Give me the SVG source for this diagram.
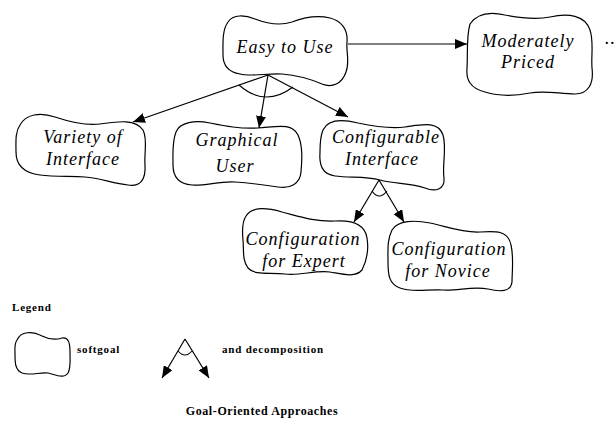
<svg xmlns="http://www.w3.org/2000/svg" width="616" height="432" viewBox="0 0 616 432">
  <style>
    .cloud { fill: #ffffff; stroke: #000000; stroke-width: 1.2; }
    .label { font-family: "Liberation Serif", "Times New Roman", serif; font-style: italic; font-size: 18px; letter-spacing: 1px; text-anchor: middle; fill: #000000; }
    .legend { font-family: "Liberation Serif", "Times New Roman", serif; font-weight: bold; font-size: 11px; letter-spacing: 0.8px; fill: #000000; }
    .title { font-family: "Liberation Serif", "Times New Roman", serif; font-weight: bold; font-size: 12px; letter-spacing: 0.6px; text-anchor: middle; fill: #000000; }
    .edge { fill: none; stroke: #000000; stroke-width: 1.2; }
    .arc { fill: none; stroke: #000000; stroke-width: 1.1; }
  </style>
  <defs>
    <marker id="arrow" markerUnits="userSpaceOnUse" markerWidth="12" markerHeight="10" refX="12" refY="5" orient="auto">
      <path d="M0,0 L12,5 L0,10 Z" fill="#000000"/>
    </marker>
  </defs>
  <rect width="616" height="432" fill="#ffffff"/>

  <!-- goal nodes -->
  <g id="easy-to-use">
    <path class="cloud" d="M228,22 C233,14 245,15 255,19 C268,24 280,26 292,22 C305,17 318,15 330,18 C342,21 348,30 347,42 C346,52 350,62 346,72 C342,84 332,88 322,84 C308,78 295,75 282,74 C268,73 252,77 240,74 C228,72 223,66 223,55 C223,44 222,30 228,22 Z"/>
    <text class="label" x="285" y="53">Easy to Use</text>
  </g>
  <g id="moderately-priced">
    <path class="cloud" d="M470,24 C478,12 492,12 505,15 C520,18 535,20 550,17 C568,13 585,15 590,30 C594,42 591,55 592,68 C594,84 588,94 575,94 C560,94 545,90 530,93 C515,96 498,96 485,92 C470,88 466,80 467,68 C468,55 466,38 470,24 Z"/>
    <text class="label" x="528" y="47">Moderately</text>
    <text class="label" x="528" y="68">Priced</text>
  </g>
  <text class="label" x="605" y="44" style="text-anchor:start">..</text>

  <g id="variety-of-interface">
    <path class="cloud" d="M20,125 C26,114 40,112 55,117 C70,122 85,126 100,124 C115,122 135,118 143,130 C148,140 144,152 145,165 C146,180 140,187 128,185 C112,183 100,178 85,177 C70,176 55,177 40,175 C24,173 16,165 16,152 C16,142 15,132 20,125 Z"/>
    <text class="label" x="83" y="143">Variety of</text>
    <text class="label" x="83" y="165">Interface</text>
  </g>
  <g id="graphical-user">
    <path class="cloud" d="M176,132 C180,122 195,120 210,123 C225,126 240,129 258,128 C275,127 292,122 298,135 C303,146 302,160 301,172 C300,184 290,189 278,187 C265,185 250,183 235,182 C220,181 205,186 192,185 C178,184 173,176 173,165 C173,154 172,142 176,132 Z"/>
    <text class="label" x="237" y="146">Graphical</text>
    <text class="label" x="235" y="172">User</text>
  </g>
  <g id="configurable-interface">
    <path class="cloud" d="M323,130 C328,119 342,119 358,123 C372,126 388,129 405,127 C420,125 438,120 443,135 C447,148 442,165 444,178 C445,190 435,192 425,188 C410,183 395,184 380,180 C365,176 350,178 335,176 C322,174 319,165 320,152 C320,145 320,137 323,130 Z"/>
    <text class="label" x="386" y="143">Configurable</text>
    <text class="label" x="382" y="165">Interface</text>
  </g>
  <g id="configuration-for-expert">
    <path class="cloud" d="M246,216 C252,206 268,208 282,212 C298,216 315,222 335,221 C352,220 365,224 367,238 C369,250 366,262 362,270 C355,278 342,274 330,272 C315,270 300,276 285,274 C270,272 255,276 248,268 C242,260 244,250 243,240 C242,230 242,222 246,216 Z"/>
    <text class="label" x="303" y="245">Configuration</text>
    <text class="label" x="304" y="267">for Expert</text>
  </g>
  <g id="configuration-for-novice">
    <path class="cloud" d="M392,230 C398,220 415,220 430,223 C445,226 462,233 480,232 C495,231 508,230 511,245 C514,258 512,272 512,282 C511,292 500,292 488,289 C472,286 458,291 443,290 C428,289 412,293 400,288 C389,284 388,275 388,262 C388,250 387,240 392,230 Z"/>
    <text class="label" x="449" y="255">Configuration</text>
    <text class="label" x="448" y="277">for Novice</text>
  </g>

  <!-- contributions and AND decompositions -->
  <g id="connectors">
    <line class="edge" x1="348" y1="44" x2="467" y2="44" marker-end="url(#arrow)"/>
    <line class="edge" x1="268" y1="75" x2="133" y2="122" marker-end="url(#arrow)"/>
    <line class="edge" x1="268" y1="75" x2="259" y2="128" marker-end="url(#arrow)"/>
    <line class="edge" x1="268" y1="75" x2="348" y2="117" marker-end="url(#arrow)"/>
    <path class="arc" d="M239,85 Q265,108 293,87"/>
    <line class="edge" x1="379" y1="180" x2="354" y2="222" marker-end="url(#arrow)"/>
    <line class="edge" x1="379" y1="180" x2="404" y2="222" marker-end="url(#arrow)"/>
    <path class="arc" d="M372,191 Q379,201 387,191"/>
  </g>

  <!-- legend -->
  <g id="legend">
    <text class="legend" x="12" y="311">Legend</text>
    <path class="cloud" d="M17,340 C21,331 32,331 42,336 C50,340 56,340 62,338 C69,337 70,344 70,352 C70,360 71,368 68,373 C64,379 56,375 48,373 C40,372 30,376 22,373 C15,370 15,362 15,355 C15,348 14,344 17,340 Z"/>
    <text class="legend" x="77" y="353">softgoal</text>
    <line class="edge" x1="185" y1="339" x2="162" y2="378" marker-end="url(#arrow)"/>
    <line class="edge" x1="185" y1="339" x2="209" y2="378" marker-end="url(#arrow)"/>
    <path class="arc" d="M178,351 Q185,359 192,351"/>
    <text class="legend" x="222" y="353">and decomposition</text>
  </g>

  <text class="title" x="262" y="415">Goal-Oriented Approaches</text>
</svg>
